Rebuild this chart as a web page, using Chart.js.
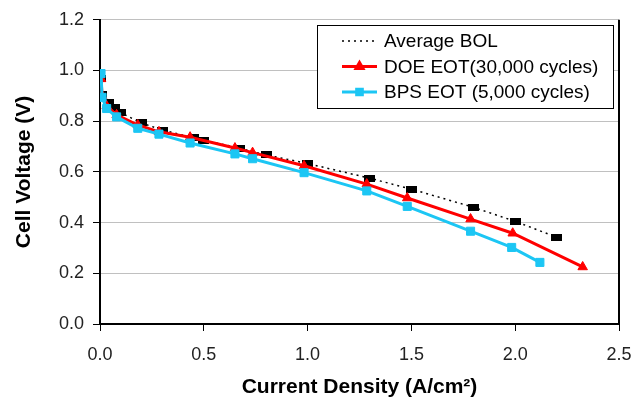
<!DOCTYPE html>
<html>
<head>
<meta charset="utf-8">
<script src="https://cdn.jsdelivr.net/npm/chart.js@4"></script>
<style>
  html, body { margin: 0; padding: 0; background: #fff; }
  #wrap { width: 634px; height: 405px; }
</style>
</head>
<body>
<div id="wrap"><canvas id="chart" width="634" height="405"></canvas></div>
<script>
// Polarisation curves
const bolX = [0.0, 0.005, 0.04, 0.07, 0.1, 0.2, 0.3, 0.45, 0.5, 0.67, 0.8, 1.0, 1.3, 1.5, 1.8, 2.0, 2.2];
const bolY = [0.97, 0.905, 0.872, 0.855, 0.833, 0.793, 0.765, 0.735, 0.725, 0.694, 0.667, 0.633, 0.575, 0.532, 0.46, 0.405, 0.342];

const doeX = [0.005, 0.01, 0.032, 0.08, 0.182, 0.284, 0.434, 0.65, 0.735, 0.983, 1.285, 1.48, 1.785, 1.988, 2.325];
const doeY = [0.967, 0.90, 0.86, 0.825, 0.785, 0.758, 0.737, 0.694, 0.676, 0.624, 0.552, 0.497, 0.414, 0.358, 0.225];

const bpsX = [0.005, 0.01, 0.032, 0.08, 0.182, 0.284, 0.434, 0.65, 0.735, 0.983, 1.285, 1.48, 1.785, 1.983, 2.119];
const bpsY = [0.988, 0.894, 0.85, 0.817, 0.772, 0.749, 0.714, 0.671, 0.652, 0.597, 0.525, 0.464, 0.366, 0.302, 0.243];

const xTicks = [0, 0.5, 1.0, 1.5, 2.0, 2.5];
const yTicks = [0, 0.2, 0.4, 0.6, 0.8, 1.0, 1.2];

const RED = '#ff0000';
const CYAN = '#1cc6f4';

function toPoints(xs, ys) {
    return xs.map((x, i) => ({ x: x, y: ys[i] }));
}

// Wide black block used as the BOL marker
function blockMarker(w, h) {
    const c = document.createElement('canvas');
    c.width = w;
    c.height = h;
    const g = c.getContext('2d');
    g.fillStyle = '#000';
    g.fillRect(0, 0, w, h);
    return c;
}

// Boxed legend inside the plot, like the original
const boxLegend = {
    id: 'boxLegend',
    afterDraw(chart) {
        const ctx = chart.ctx;
        const box = { x: 317.5, y: 25.5, w: 296, h: 83 };
        ctx.save();
        ctx.fillStyle = '#fff';
        ctx.fillRect(box.x, box.y, box.w, box.h);
        ctx.strokeStyle = '#000';
        ctx.lineWidth = 1;
        ctx.strokeRect(box.x, box.y, box.w, box.h);

        const rows = [41, 66.5, 92];
        chart.data.datasets.forEach((ds, i) => {
            const y = rows[i];
            ctx.strokeStyle = ds.borderColor;
            ctx.lineWidth = ds.borderWidth;
            ctx.setLineDash(ds.borderDash || []);
            ctx.beginPath();
            ctx.moveTo(342, y);
            ctx.lineTo(377, y);
            ctx.stroke();
            ctx.setLineDash([]);
            if (ds.legendMarker) {
                Chart.helpers.drawPoint(ctx, {
                    pointStyle: ds.pointStyle,
                    radius: ds.legendMarker,
                    borderWidth: 1
                }, 359.5, y);
                ctx.fillStyle = ds.borderColor;
                ctx.fill();
            }
            ctx.fillStyle = '#000';
            ctx.font = '19px "Liberation Sans", Arial, sans-serif';
            ctx.textBaseline = 'middle';
            ctx.fillText(ds.label, 384, y + 1);
        });

        // right border of the plot area
        const a = chart.chartArea;
        ctx.strokeStyle = '#000';
        ctx.lineWidth = 2;
        ctx.beginPath();
        ctx.moveTo(a.right, a.top);
        ctx.lineTo(a.right, a.bottom + 1);
        ctx.stroke();
        ctx.restore();
    }
};

const tickFont = { family: "'Liberation Sans', Arial, sans-serif", size: 18 };
const titleFont = { family: "'Liberation Sans', Arial, sans-serif", size: 21, weight: 'bold' };

new Chart(document.getElementById('chart').getContext('2d'), {
    type: 'scatter',
    data: {
        datasets: [
            {
                label: 'Average BOL',
                data: toPoints(bolX, bolY),
                showLine: true,
                borderColor: '#000',
                borderWidth: 1.5,
                borderDash: [2, 4],
                pointStyle: blockMarker(11, 7),
                pointRadius: 5,
                order: 3
            },
            {
                label: 'DOE EOT(30,000 cycles)',
                data: toPoints(doeX, doeY),
                showLine: true,
                borderColor: RED,
                backgroundColor: RED,
                borderWidth: 3,
                pointStyle: 'triangle',
                pointRadius: 5.5,
                pointBorderWidth: 1,
                legendMarker: 4,
                order: 2
            },
            {
                label: 'BPS EOT (5,000 cycles)',
                data: toPoints(bpsX, bpsY),
                showLine: true,
                borderColor: CYAN,
                backgroundColor: CYAN,
                borderWidth: 3,
                pointStyle: 'rect',
                pointRadius: 5.7,
                pointBorderWidth: 1,
                legendMarker: 4,
                order: 1
            }
        ]
    },
    options: {
        responsive: false,
        animation: false,
        layout: { padding: { left: 0, top: 18, right: 15, bottom: 0 } },
        plugins: {
            legend: { display: false },
            tooltip: { enabled: false }
        },
        elements: { line: { tension: 0 } },
        scales: {
            x: {
                type: 'linear',
                min: 0,
                max: 2.5,
                afterBuildTicks: scale => { scale.ticks = xTicks.map(v => ({ value: v })); },
                afterFit: scale => {
                    scale.height = 81;
                    scale.paddingLeft = 0;
                    scale.paddingRight = 0;
                },
                ticks: {
                    color: '#222',
                    font: tickFont,
                    padding: 13,
                    maxRotation: 0,
                    callback: v => v.toFixed(1)
                },
                grid: {
                    drawOnChartArea: false,
                    tickLength: 7,
                    tickColor: '#000'
                },
                border: { color: '#000', width: 2 },
                title: {
                    display: true,
                    text: 'Current Density (A/cm²)',
                    color: '#000',
                    font: titleFont,
                    padding: { top: 0, bottom: 5 }
                }
            },
            y: {
                type: 'linear',
                min: 0,
                max: 1.2,
                afterBuildTicks: scale => { scale.ticks = yTicks.map(v => ({ value: v })); },
                afterFit: scale => { scale.width = 100; },
                ticks: {
                    color: '#222',
                    font: tickFont,
                    padding: 9,
                    callback: v => v.toFixed(1)
                },
                grid: {
                    color: '#c0c0c0',
                    lineWidth: 1,
                    tickLength: 7,
                    tickColor: '#000'
                },
                border: { color: '#000', width: 2 },
                title: {
                    display: true,
                    text: 'Cell Voltage (V)',
                    color: '#000',
                    font: titleFont,
                    padding: { top: 12, bottom: 0 }
                }
            }
        }
    },
    plugins: [boxLegend]
});
</script>
</body>
</html>
